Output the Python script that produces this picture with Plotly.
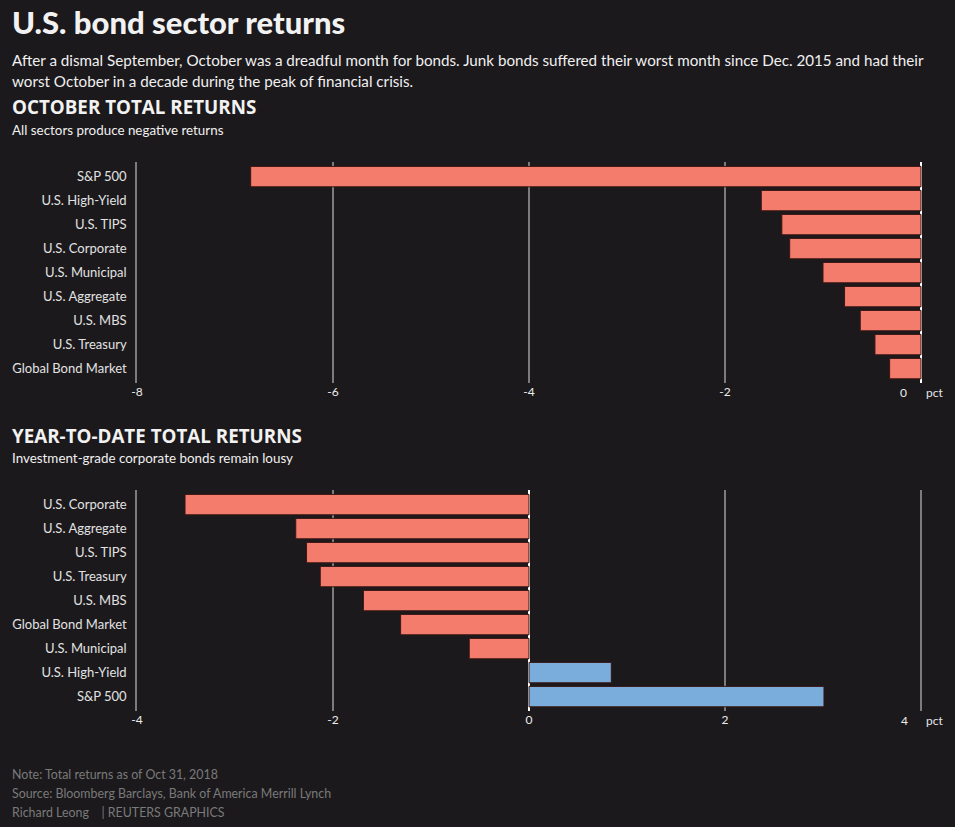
import plotly.graph_objects as go

W, H = 955, 827

oct_sectors = ["S&P 500", "U.S. High-Yield", "U.S. TIPS", "U.S. Corporate", "U.S. Municipal",
               "U.S. Aggregate", "U.S. MBS", "U.S. Treasury", "Global Bond Market"]
oct_returns = [-6.84, -1.63, -1.42, -1.34, -1.00, -0.78, -0.62, -0.47, -0.32]

ytd_sectors = ["U.S. Corporate", "U.S. Aggregate", "U.S. TIPS", "U.S. Treasury", "U.S. MBS",
               "Global Bond Market", "U.S. Municipal", "U.S. High-Yield", "S&P 500"]
ytd_returns = [-3.51, -2.38, -2.27, -2.13, -1.69, -1.31, -0.61, 0.84, 3.01]

oct_ticks = [-8, -6, -4, -2, 0]
ytd_ticks = [-4, -2, 0, 2, 4]

BG = "#1b191c"
NEG = "#f47c6c"
POS = "#7aacdc"
GRID = "#7c7c7c"
FONT = "Source Sans Pro, Lato, Noto Sans, sans-serif"


def py(px):
    return 1 - px / H


def px_x(px):
    return px / W


fig = go.Figure()
fig.add_trace(go.Bar(
    x=oct_returns, y=oct_sectors, orientation="h",
    marker=dict(color=[NEG if v < 0 else POS for v in oct_returns],
                line=dict(color="#3a1613", width=1)),
    xaxis="x", yaxis="y", hoverinfo="x+y", showlegend=False))
fig.add_trace(go.Bar(
    x=ytd_returns, y=ytd_sectors, orientation="h",
    marker=dict(color=[NEG if v < 0 else POS for v in ytd_returns],
                line=dict(color="#3a1613", width=1)),
    xaxis="x2", yaxis="y2", hoverinfo="x+y", showlegend=False))

xdom = [px_x(137), px_x(922.96)]
common_x = dict(showgrid=True, gridcolor=GRID, gridwidth=1.5, zeroline=True,
                zerolinecolor="#ffffff", zerolinewidth=2, showline=False,
                tickfont=dict(family=FONT, size=12, color="#ececec"),
                ticks="", layer="above traces", fixedrange=True, automargin=False)
common_y = dict(showgrid=False, zeroline=False, showline=True, linecolor=GRID,
                linewidth=1.5, ticks="outside", ticklen=6, tickcolor="rgba(0,0,0,0)",
                tickfont=dict(family=FONT, size=13, color="#e2e2e2"),
                autorange=False, range=[8.6, -0.6], layer="above traces", fixedrange=True,
                automargin=False)

# last tick label of each axis is drawn nudged left of its gridline (as in the original)
oct_text = [str(t) for t in oct_ticks[:-1]] + [""]
ytd_text = [str(t) for t in ytd_ticks[:-1]] + [""]

fig.update_layout(
    width=W, height=H,
    paper_bgcolor=BG, plot_bgcolor=BG,
    margin=dict(l=0, r=0, t=0, b=0, autoexpand=False),
    bargap=0.15,
    xaxis=dict(domain=xdom, anchor="y", range=[-8, 0.02], tickvals=oct_ticks,
               ticktext=oct_text, **common_x),
    yaxis=dict(domain=[py(383), py(162.2)], anchor="x",
               categoryorder="array", categoryarray=oct_sectors, **common_y),
    xaxis2=dict(domain=xdom, anchor="y2", range=[-4, 4.02], tickvals=ytd_ticks,
                ticktext=ytd_text, **common_x),
    yaxis2=dict(domain=[py(711), py(490.2)], anchor="x2",
                categoryorder="array", categoryarray=ytd_sectors, **common_y),
    font=dict(family=FONT, color="#e6e6e6"),
)

fig.add_annotation(text=str(oct_ticks[-1]), xref="x", yref="paper", x=oct_ticks[-1], y=py(392),
                   xshift=-18, showarrow=False, yanchor="middle",
                   font=dict(family=FONT, size=12, color="#ececec"))
fig.add_annotation(text=str(ytd_ticks[-1]), xref="x2", yref="paper", x=ytd_ticks[-1], y=py(720),
                   xshift=-17, showarrow=False, yanchor="middle",
                   font=dict(family=FONT, size=12, color="#ececec"))


def txt(text, x, y, size, color="#f0f0f0", weight="normal", family=FONT):
    fig.add_annotation(text=text, xref="paper", yref="paper", x=px_x(x), y=py(y),
                       xanchor="left", yanchor="middle", showarrow=False,
                       font=dict(family=family, size=size, color=color, weight=weight))


txt("U.S. bond sector returns", 10, 22, 31, "#f2f2f2", 900, "Lato, Open Sans, sans-serif")
txt("After a dismal September, October was a dreadful month for bonds. Junk bonds suffered their worst month since Dec. 2015 and had their",
    10, 60, 15.2)
txt("worst October in a decade during the peak of financial crisis.", 10, 81, 15.2)
txt("OCTOBER TOTAL RETURNS", 10, 107, 18.8, "#f2f2f2", "bold", "Open Sans, sans-serif")
txt("All sectors produce negative returns", 10, 130, 13.4)
txt("YEAR-TO-DATE TOTAL RETURNS", 10, 436, 18.8, "#f2f2f2", "bold", "Open Sans, sans-serif")
txt("Investment-grade corporate bonds remain lousy", 10, 458, 13.4)
txt("Note: Total returns as of Oct 31, 2018", 10, 774, 12.4, "#7a7a7a")
txt("Source: Bloomberg Barclays, Bank of America Merrill Lynch", 10, 793, 12.4, "#7a7a7a")
txt("Richard Leong &nbsp;&nbsp;&nbsp;| REUTERS GRAPHICS", 10, 812, 12.4, "#7a7a7a")
txt("pct", 924, 392, 12, "#e6e6e6")
txt("pct", 924, 720, 12, "#e6e6e6")

fig.write_html("out.html")
